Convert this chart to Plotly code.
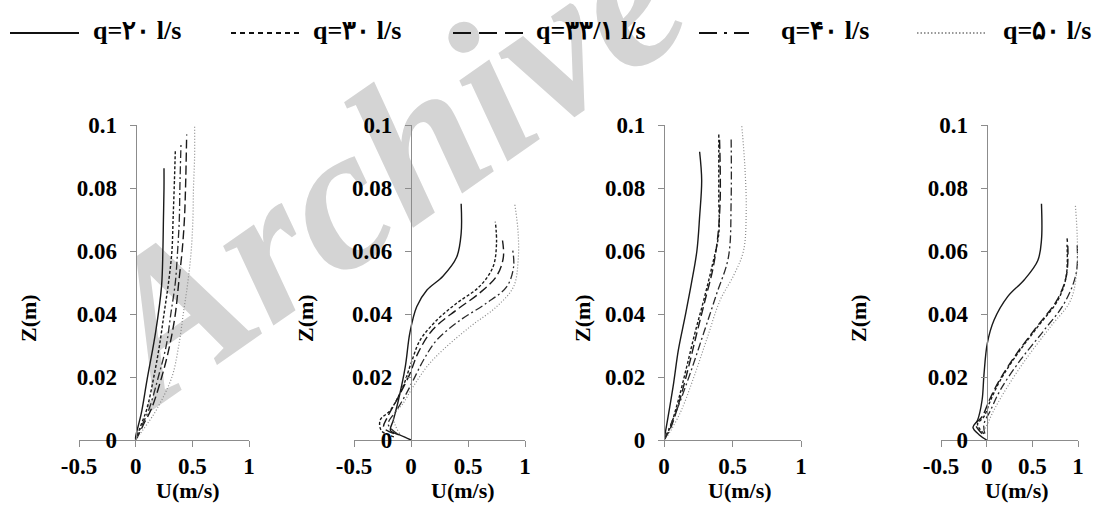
import plotly.graph_objects as go

W, H = 1101, 506

# ---------------- data ----------------
SERIES = ["q20", "q30", "q33", "q40", "q50"]
LEGEND_TEXT = ["q=۲۰ l/s", "q=۳۰ l/s", "q=۳۳/۱ l/s", "q=۴۰ l/s", "q=۵۰ l/s"]

# Panel 1
P1_Z20 = [0, 0.001, 0.0085, 0.019, 0.034, 0.0487, 0.06, 0.07, 0.08, 0.0863]
P1_U20 = [0, 0.0, 0.05, 0.10, 0.175, 0.228, 0.24, 0.245, 0.25, 0.25]
P1_Z30 = [0, 0.002, 0.005, 0.01, 0.02, 0.03, 0.04, 0.05, 0.06, 0.07, 0.08, 0.092]
P1_U30 = [0, 0.02, 0.05, 0.10, 0.16, 0.21, 0.25, 0.29, 0.32, 0.33, 0.34, 0.35]
P1_Z33 = [0, 0.002, 0.005, 0.01, 0.02, 0.03, 0.04, 0.05, 0.06, 0.07, 0.08, 0.097]
P1_U33 = [0, 0.03, 0.07, 0.14, 0.23, 0.30, 0.35, 0.38, 0.41, 0.43, 0.44, 0.45]
P1_Z40 = [0, 0.002, 0.005, 0.01, 0.02, 0.03, 0.04, 0.05, 0.06, 0.07, 0.08, 0.094]
P1_U40 = [0, 0.02, 0.06, 0.12, 0.20, 0.27, 0.31, 0.35, 0.37, 0.385, 0.39, 0.40]
P1_Z50 = [0, 0.002, 0.005, 0.01, 0.02, 0.03, 0.04, 0.05, 0.06, 0.07, 0.08, 0.09, 0.1]
P1_U50 = [0, 0.04, 0.10, 0.19, 0.32, 0.38, 0.42, 0.46, 0.49, 0.505, 0.51, 0.52, 0.52]

# Panel 2
P2_Z20 = [0, 0.0016, 0.003, 0.0063, 0.0127, 0.0233, 0.034, 0.0423, 0.0476, 0.052, 0.058, 0.0656, 0.075]
P2_U20 = [0, -0.1, -0.18, -0.155, -0.11, -0.05, -0.01, 0.05, 0.14, 0.28, 0.40, 0.44, 0.44]
P2_Z30 = [0.001, 0.003, 0.0063, 0.0095, 0.017, 0.0243, 0.0317, 0.038, 0.0434, 0.0487, 0.055, 0.0624, 0.0693]
P2_U30 = [-0.15, -0.26, -0.27, -0.18, -0.07, 0.0, 0.08, 0.225, 0.40, 0.60, 0.72, 0.75, 0.74]
P2_Z33 = [0.002, 0.004, 0.007, 0.0127, 0.021, 0.0275, 0.035, 0.0413, 0.0466, 0.052, 0.058, 0.064]
P2_U33 = [-0.15, -0.24, -0.21, -0.125, -0.01, 0.06, 0.19, 0.40, 0.60, 0.75, 0.81, 0.80]
P2_Z40 = [0.002, 0.005, 0.0095, 0.0148, 0.019, 0.0254, 0.0317, 0.038, 0.0434, 0.0487, 0.055, 0.0608]
P2_U40 = [-0.12, -0.2, -0.125, -0.04, 0.02, 0.11, 0.225, 0.43, 0.66, 0.84, 0.90, 0.89]
P2_Z50 = [0.002, 0.0074, 0.0116, 0.017, 0.0233, 0.0286, 0.036, 0.0423, 0.0487, 0.0571, 0.0656, 0.075]
P2_U50 = [-0.1, -0.155, -0.07, 0.02, 0.14, 0.28, 0.52, 0.75, 0.90, 0.94, 0.94, 0.91]

# Panel 3
P3_Z20 = [0, 0.0074, 0.018, 0.0286, 0.039, 0.0497, 0.06, 0.0709, 0.0825, 0.0915]
P3_U20 = [0, 0.03, 0.07, 0.105, 0.153, 0.20, 0.24, 0.26, 0.275, 0.26]
P3_Z30 = [0, 0.004, 0.0127, 0.0233, 0.034, 0.0444, 0.055, 0.0656, 0.0762, 0.087, 0.0974]
P3_U30 = [0, 0.044, 0.105, 0.166, 0.226, 0.29, 0.35, 0.40, 0.40, 0.40, 0.40]
P3_Z33 = [0, 0.004, 0.0127, 0.0233, 0.034, 0.0444, 0.055, 0.0656, 0.0762, 0.087, 0.096]
P3_U33 = [0, 0.05, 0.115, 0.18, 0.24, 0.30, 0.36, 0.395, 0.41, 0.41, 0.405]
P3_Z40 = [0, 0.0095, 0.021, 0.034, 0.0465, 0.058, 0.076, 0.096]
P3_U40 = [0, 0.093, 0.19, 0.29, 0.385, 0.47, 0.49, 0.49]
P3_Z50 = [0, 0.001, 0.0085, 0.019, 0.0317, 0.0444, 0.0524, 0.06, 0.0725, 0.087, 0.1]
P3_U50 = [0, 0.02, 0.117, 0.21, 0.31, 0.41, 0.51, 0.58, 0.60, 0.59, 0.567]

# Panel 4
P4_Z20 = [0, 0.0016, 0.004, 0.0063, 0.0127, 0.0206, 0.0307, 0.038, 0.0455, 0.0508, 0.057, 0.0635, 0.075]
P4_U20 = [0, -0.08, -0.15, -0.1, -0.05, -0.03, 0.007, 0.08, 0.23, 0.41, 0.56, 0.60, 0.60]
P4_Z30 = [0.002, 0.005, 0.0074, 0.0127, 0.019, 0.0275, 0.036, 0.0444, 0.0518, 0.062]
P4_U30 = [-0.03, -0.1, -0.03, 0.044, 0.15, 0.34, 0.56, 0.78, 0.87, 0.88]
P4_Z33 = [0.002, 0.005, 0.0074, 0.0127, 0.019, 0.0275, 0.036, 0.0444, 0.0518, 0.06, 0.064]
P4_U33 = [-0.05, -0.12, -0.05, 0.03, 0.14, 0.33, 0.55, 0.77, 0.87, 0.89, 0.88]
P4_Z40 = [0.002, 0.005, 0.0095, 0.0159, 0.0254, 0.0349, 0.0434, 0.0529, 0.0624]
P4_U40 = [-0.02, -0.03, 0.044, 0.15, 0.37, 0.63, 0.85, 0.98, 0.99]
P4_Z50 = [0.002, 0.004, 0.0095, 0.017, 0.0265, 0.036, 0.0444, 0.055, 0.0656, 0.075]
P4_U50 = [-0.05, -0.01, 0.08, 0.23, 0.45, 0.70, 0.92, 0.99, 0.99, 0.97]

X_MIN = [-0.5, -0.5, 0, -0.5]
X_TICKS = [[-0.5, 0, 0.5, 1], [-0.5, 0, 0.5, 1], [0, 0.5, 1], [-0.5, 0, 0.5, 1]]
Y_TICKS = [0, 0.02, 0.04, 0.06, 0.08, 0.1]
Y_TICKTEXT = ["0", "0.02", "0.04", "0.06", "0.08", "0.1"]

PANELS = [
    [(P1_U20, P1_Z20), (P1_U30, P1_Z30), (P1_U33, P1_Z33), (P1_U40, P1_Z40), (P1_U50, P1_Z50)],
    [(P2_U20, P2_Z20), (P2_U30, P2_Z30), (P2_U33, P2_Z33), (P2_U40, P2_Z40), (P2_U50, P2_Z50)],
    [(P3_U20, P3_Z20), (P3_U30, P3_Z30), (P3_U33, P3_Z33), (P3_U40, P3_Z40), (P3_U50, P3_Z50)],
    [(P4_U20, P4_Z20), (P4_U30, P4_Z30), (P4_U33, P4_Z33), (P4_U40, P4_Z40), (P4_U50, P4_Z50)],
]

# ---------------- styles ----------------
STYLE = {
    "q20": dict(color="#1a1a1a", width=1.4, dash="solid"),
    "q30": dict(color="#1a1a1a", width=1.4, dash="3px,2px"),
    "q33": dict(color="#1a1a1a", width=1.4, dash="9px,4px"),
    "q40": dict(color="#2a2a2a", width=1.3, dash="8px,3px,2px,3px"),
    "q50": dict(color="#8a8a8a", width=1.2, dash="1px,2px"),
}
LEG_DASH = ["solid", "5px,4px", "18px,8px", "18px,7px,3px,7px", "1.5px,2px"]

# pixel geometry of each panel: (x px of xmin, x px of 1)
PX = [(79, 249), (354, 525), (664, 801), (941, 1078)]
Y_TOP, Y_BOT = 125, 440
AXIS_GRAY = "#8c8c8c"
FONT = "Liberation Serif, Times New Roman, serif"
TICK_FONT = dict(family=FONT, size=23, weight="bold", color="black")

fig = go.Figure()

layout = dict(
    template="none",
    width=W, height=H, margin=dict(l=0, r=0, t=0, b=0, pad=0, autoexpand=False),
    paper_bgcolor="white", plot_bgcolor="rgba(0,0,0,0)",
    showlegend=False, font=dict(family=FONT, color="black"),
)

for i, panel in enumerate(PANELS):
    n = "" if i == 0 else str(i + 1)
    x0px, x1px = PX[i]
    xmin = X_MIN[i]
    zero_px = x0px + (0 - xmin) / (1 - xmin) * (x1px - x0px)
    for s, (u, z) in zip(SERIES, panel):
        fig.add_trace(go.Scatter(
            x=u, y=z, mode="lines", line=STYLE[s], line_shape="spline",
            xaxis="x" + n, yaxis="y" + n, hoverinfo="skip", name=s,
        ))
    layout["xaxis" + n] = dict(
        domain=[x0px / W, x1px / W], range=[xmin, 1], anchor="y" + n,
        automargin=False,
        showline=True, linecolor=AXIS_GRAY, linewidth=1.3,
        ticks="outside", ticklen=6, tickcolor=AXIS_GRAY, tickwidth=1.3,
        tickvals=X_TICKS[i], ticktext=[("%g" % v) for v in X_TICKS[i]],
        tickfont=TICK_FONT, ticklabelstandoff=-1,
        showgrid=False, zeroline=False, fixedrange=True,
    )
    layout["yaxis" + n] = dict(
        domain=[1 - Y_BOT / H, 1 - Y_TOP / H], range=[0, 0.1],
        anchor="free", position=zero_px / W, automargin=False,
        showline=True, linecolor=AXIS_GRAY, linewidth=1.3,
        ticks="outside", ticklen=6, tickcolor=AXIS_GRAY, tickwidth=1.3,
        tickvals=Y_TICKS, ticktext=Y_TICKTEXT, ticklabelstandoff=8,
        tickfont=TICK_FONT,
        showgrid=False, zeroline=False, fixedrange=True,
    )

annotations = []
ZT_X = [28, 305, 582, 858]
UT_X = [188, 463, 740, 1017]
for i in range(4):
    annotations.append(dict(
        text="<b>Z(m)</b>", xref="paper", yref="paper", x=ZT_X[i] / W, y=1 - 318 / H,
        xanchor="center", yanchor="middle", textangle=-90, showarrow=False,
        font=dict(family=FONT, size=22, color="black"),
    ))
    annotations.append(dict(
        text="<b>U(m/s)</b>", xref="paper", yref="paper", x=UT_X[i] / W, y=1 - 490 / H,
        xanchor="center", yanchor="middle", showarrow=False,
        font=dict(family=FONT, size=22, color="black"),
    ))

# custom legend row
LEG_LINE = [(10, 79), (231, 302), (453, 525), (699, 749), (917, 987)]
LEG_TXT_C = [137, 357, 591, 825, 1047]
shapes = []
for k, s in enumerate(SERIES):
    shapes.append(dict(
        type="line", xref="paper", yref="paper",
        x0=LEG_LINE[k][0] / W, x1=LEG_LINE[k][1] / W, y0=1 - 33 / H, y1=1 - 33 / H,
        line=dict(color="#111111" if s != "q50" else "#777777", width=2 if s != "q50" else 1.6,
                  dash=LEG_DASH[k]),
    ))
    annotations.append(dict(
        text="<b>" + LEGEND_TEXT[k] + "</b>", xref="paper", yref="paper",
        x=LEG_TXT_C[k] / W, y=1 - 31 / H, xanchor="center", yanchor="middle",
        showarrow=False, font=dict(family=FONT, size=26, color="black"),
    ))

# watermark (behind data)
WM_CX, WM_CY = 376, 142
shapes.append(dict(
    type="rect", xref="paper", yref="paper", layer="below",
    x0=(WM_CX - 50) / W, x1=(WM_CX + 50) / W, y0=1 - (WM_CY + 50) / H, y1=1 - (WM_CY - 50) / H,
    line=dict(width=0), fillcolor="rgba(0,0,0,0)",
    label=dict(text="<b><i>Archive</i></b>", textangle=-35, textposition="middle center",
               font=dict(family=FONT, size=205, color="#d4d4d4")),
))

layout["annotations"] = annotations
layout["shapes"] = shapes
fig.update_layout(**layout)
fig.write_html("out.html")
